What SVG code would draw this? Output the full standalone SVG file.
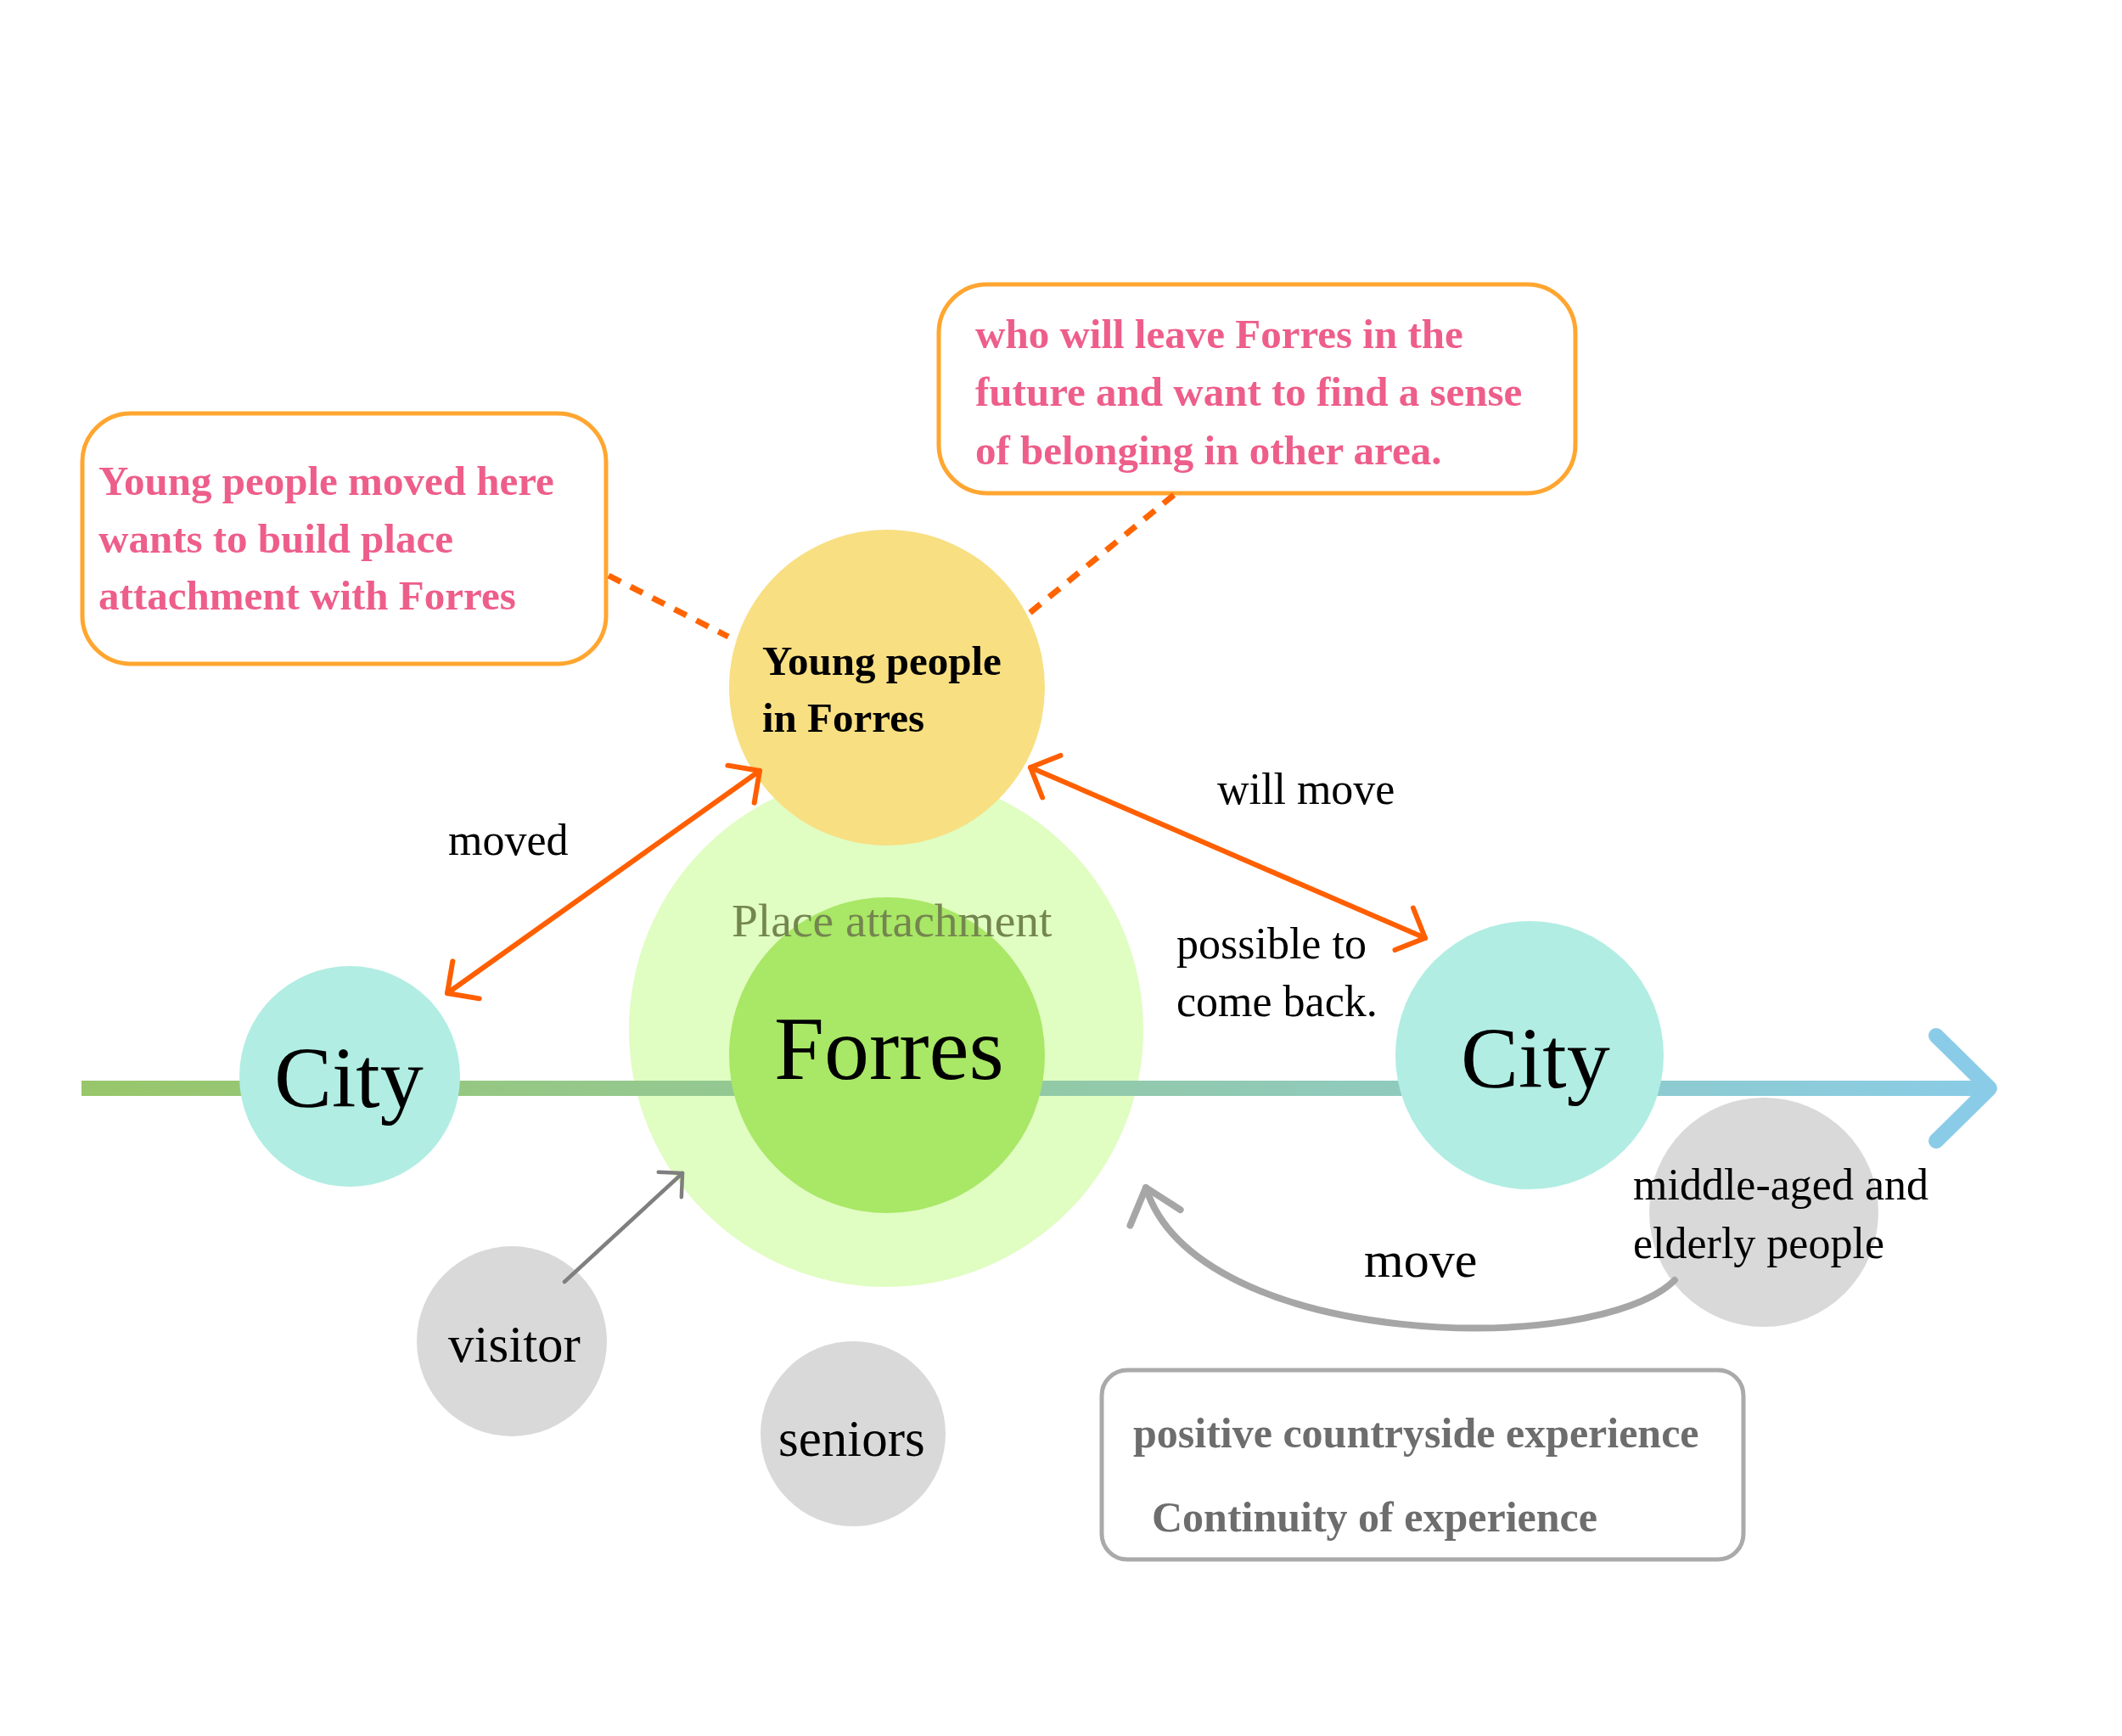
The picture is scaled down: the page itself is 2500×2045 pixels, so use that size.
<svg xmlns="http://www.w3.org/2000/svg" width="2500" height="2045" viewBox="0 0 2500 2045">
  <style>
    text { font-family: "Liberation Serif", "Times New Roman", serif; }
    .pink { fill: #EE5E8A; font-size: 49px; font-weight: bold; }
    .lbl { fill: #000000; font-size: 52px; }
    .big { fill: #000000; font-size: 102px; }
    .gray { fill: #6D6D6D; font-size: 50px; font-weight: bold; }
    .obox { fill: #FFFFFF; stroke: #FFA630; stroke-width: 5; }
    .dash { fill: none; stroke: #FF6400; stroke-width: 7; stroke-dasharray: 16 13; }
    .orange { fill: none; stroke: #FF5F00; stroke-width: 6; stroke-linecap: round; }
  </style>
  <defs>
    <linearGradient id="tl" gradientUnits="userSpaceOnUse" x1="96" y1="0" x2="2350" y2="0">
      <stop offset="0" stop-color="#98C66A"/>
      <stop offset="0.5" stop-color="#92C9A6"/>
      <stop offset="1" stop-color="#8ACCE7"/>
    </linearGradient>
    <marker id="oh" markerUnits="userSpaceOnUse" orient="auto-start-reverse" overflow="visible" markerWidth="1" markerHeight="1">
      <path d="M-27,-27 L0,0 L-27,27" fill="none" stroke="#FF5F00" stroke-width="6" stroke-linecap="round" stroke-linejoin="round"/>
    </marker>
    <marker id="gh" markerUnits="userSpaceOnUse" orient="auto" overflow="visible" markerWidth="1" markerHeight="1">
      <path d="M-20,-20 L0,0 L-20,20" fill="none" stroke="#7F7F7F" stroke-width="4.5" stroke-linecap="round" stroke-linejoin="round"/>
    </marker>
    <marker id="gh2" markerUnits="userSpaceOnUse" orient="auto" overflow="visible" markerWidth="1" markerHeight="1">
      <path d="M-37,-31 L0,0 L-37,31" fill="none" stroke="#A6A6A6" stroke-width="8" stroke-linecap="round" stroke-linejoin="round"/>
    </marker>
  </defs>
  <rect x="0" y="0" width="2500" height="2045" fill="#FFFFFF"/>

  <g id="place-attachment">
    <circle cx="1044" cy="1213" r="303" fill="#E0FDC2"/>
  </g>

  <g id="timeline">
    <path d="M96,1282 H2338" fill="none" stroke="url(#tl)" stroke-width="18"/>
    <path d="M2281,1220 L2344,1282 L2281,1344" fill="none" stroke="#8ACCE7" stroke-width="18" stroke-linecap="round" stroke-linejoin="round"/>
  </g>

  <g id="forres">
    <circle cx="1045" cy="1243" r="186" fill="#A9E766"/>
    <text x="862" y="1103" font-size="55.5" fill="#74864F">Place attachment</text>
    <text x="912" y="1271" font-size="106" fill="#000000">Forres</text>
  </g>

  <g id="city-left">
    <circle cx="412" cy="1268" r="130" fill="#B1EDE3"/>
    <text class="big" x="323" y="1304">City</text>
  </g>

  <g id="city-right">
    <circle cx="1802" cy="1243" r="158" fill="#B1EDE3"/>
    <text class="big" x="1721" y="1281">City</text>
  </g>

  <g id="young-people">
    <circle cx="1045" cy="810" r="186" fill="#F8DF82"/>
    <text x="898" y="795" font-size="49" font-weight="bold" fill="#000000">Young people</text>
    <text x="898" y="862" font-size="49" font-weight="bold" fill="#000000">in Forres</text>
  </g>

  <g id="note-left">
    <rect class="obox" x="97" y="487" width="617" height="295" rx="57"/>
    <text class="pink" x="116" y="583">Young people moved here</text>
    <text class="pink" x="116" y="651">wants to build place</text>
    <text class="pink" x="116" y="718">attachment with Forres</text>
  </g>

  <g id="note-right">
    <rect class="obox" x="1106" y="335" width="750" height="246" rx="57"/>
    <text class="pink" x="1149" y="410">who will leave Forres in the</text>
    <text class="pink" x="1149" y="478">future and want to find a sense</text>
    <text class="pink" x="1149" y="547">of belonging in other area.</text>
  </g>

  <g id="visitor">
    <circle cx="603" cy="1580" r="112" fill="#D9D9D9"/>
    <text x="528" y="1604" font-size="61" fill="#000000">visitor</text>
  </g>

  <g id="seniors">
    <circle cx="1005" cy="1689" r="109" fill="#D9D9D9"/>
    <text x="917" y="1715" font-size="61" fill="#000000">seniors</text>
  </g>

  <g id="middle-aged">
    <circle cx="2078" cy="1428" r="135" fill="#D9D9D9"/>
    <text class="lbl" x="1924" y="1413">middle-aged and</text>
    <text class="lbl" x="1924" y="1482">elderly people</text>
  </g>

  <g id="experience">
    <rect x="1298" y="1614" width="756" height="223" rx="30" fill="#FFFFFF" stroke="#AAAAAA" stroke-width="5"/>
    <text class="gray" x="1335" y="1705">positive countryside experience</text>
    <text class="gray" x="1357" y="1804">Continuity of experience</text>
  </g>

  <g id="connectors">
    <path class="dash" d="M717,678 L858,750"/>
    <path class="dash" d="M1383,583 L1207,727"/>
    <path class="orange" d="M527,1170 L895,908" marker-start="url(#oh)" marker-end="url(#oh)"/>
    <path class="orange" d="M1214,904 L1679,1105" marker-start="url(#oh)" marker-end="url(#oh)"/>
    <path d="M665,1510 L804,1382" fill="none" stroke="#7F7F7F" stroke-width="4.5" stroke-linecap="round" marker-end="url(#gh)"/>
    <path d="M1973,1508 C1880,1600 1410,1590 1350,1399" fill="none" stroke="#A6A6A6" stroke-width="8" stroke-linecap="round" marker-end="url(#gh2)"/>
    <text class="lbl" x="528" y="1007" font-size="51">moved</text>
    <text class="lbl" x="1434" y="947">will move</text>
    <text class="lbl" x="1386" y="1129">possible to</text>
    <text class="lbl" x="1386" y="1197">come back.</text>
    <text x="1607" y="1504" font-size="60" fill="#000000">move</text>
  </g>
</svg>
